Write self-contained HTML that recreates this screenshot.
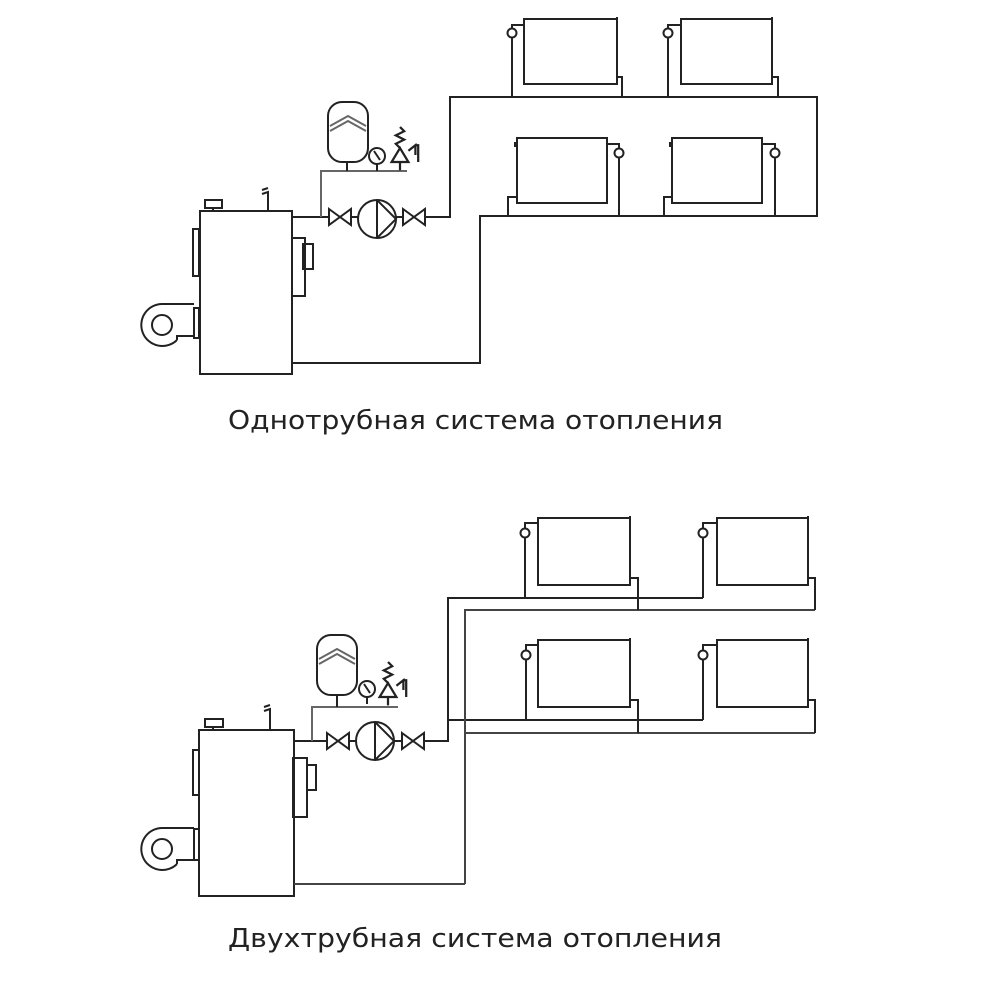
<!DOCTYPE html>
<html><head><meta charset="utf-8"><style>html,body{margin:0;padding:0;background:#fff}svg{display:block}</style></head>
<body>
<svg width="1000" height="1000" viewBox="0 0 1000 1000" xmlns="http://www.w3.org/2000/svg">
<defs>
<g id="valve" fill="none" stroke="#222" stroke-width="2"><path d="M0,-8 L22,8 L22,-8 L0,8 Z"/></g>
<g id="pump" fill="none" stroke="#222" stroke-width="2"><circle r="19"/><line x1="0" y1="-19" x2="0" y2="19"/><path d="M0,-19 L19,0 L0,19"/></g>
<g id="gauge" fill="none" stroke="#222" stroke-width="2"><circle r="8"/><line x1="-3" y1="-5" x2="3" y2="4"/><line x1="0" y1="8" x2="0" y2="15"/></g>
<g id="tank" fill="none" stroke="#222" stroke-width="2"><rect x="0" y="0" width="40" height="60" rx="14"/><path d="M2,24 L20,14 L38,24 M2,29 L20,19 L38,29" stroke="#666"/></g>
<g id="safety" fill="none" stroke="#222" stroke-width="1.6" transform="scale(1.4)"><path d="M-6,0 L6,0 L0,-10 Z"/><path d="M0,-10 L-3,-13 L3,-16 L-3,-19 L3,-22 L0,-25"/><path d="M6,-8 L11,-12 L11,-5"/><path d="M11,-12 L13,-12 L13,0"/><line x1="0" y1="0" x2="0" y2="6"/></g>
<g id="fan" fill="none" stroke="#222" stroke-width="2"><circle r="10"/><path d="M0,-21 A21,21 0 1 0 15,15"/><path d="M15,15 L15,11 L32,11"/><path d="M0,-21 L32,-21"/></g>
</defs>

<g fill="none" stroke="#222" stroke-width="2">
<!-- TOP DIAGRAM -->
<rect x="200" y="211" width="92" height="163"/>
<rect x="205" y="200" width="17" height="8"/><line x1="213" y1="208" x2="213" y2="211"/>
<path d="M268,211 L268,192 L262,194 M268,188 L262,190"/>
<rect x="193" y="229" width="6" height="47"/>
<rect x="194" y="308" width="5" height="30"/>
<use href="#fan" x="162" y="325"/>
<rect x="292" y="238" width="13" height="58"/>
<rect x="303" y="244" width="10" height="25"/>
<path d="M292,217 L329,217 M351,217 L358,217 M396,217 L403,217 M425,217 L450,217 L450,97 L817,97 L817,216 L480,216 L480,363 L292,363"/>
<path d="M321,217 L321,171 L407,171" stroke="#666"/>
<use href="#valve" x="329" y="217"/>
<use href="#pump" x="377" y="219"/>
<use href="#valve" x="403" y="217"/>
<use href="#tank" x="328" y="102"/><line x1="347" y1="162" x2="347" y2="171"/>
<use href="#gauge" x="377" y="156"/>
<use href="#safety" x="400" y="162"/>
<!-- top radiators -->
<rect x="524" y="19" width="93" height="65"/>
<circle cx="512" cy="33" r="4.5"/><path d="M512,28 L512,25 L524,25 M512,38 L512,97 M617,77 L622,77 L622,97 M617,17 L617,23"/>
<rect x="681" y="19" width="91" height="65"/>
<circle cx="668" cy="33" r="4.5"/><path d="M668,28 L668,25 L681,25 M668,38 L668,97 M772,77 L778,77 L778,97 M772,17 L772,23"/>
<rect x="517" y="138" width="90" height="65"/>
<circle cx="619" cy="153" r="4.5"/><path d="M619,148 L619,144 L607,144 M619,158 L619,216 M517,197 L508,197 L508,216 M515,142 L515,147"/>
<rect x="672" y="138" width="90" height="65"/>
<circle cx="775" cy="153" r="4.5"/><path d="M775,148 L775,144 L762,144 M775,158 L775,216 M672,197 L664,197 L664,216 M670,142 L670,147"/>

<!-- BOTTOM DIAGRAM -->
<rect x="199" y="730" width="95" height="166"/>
<rect x="205" y="719" width="18" height="8"/><line x1="213" y1="727" x2="213" y2="730"/>
<path d="M270,730 L270,709 L264,711 M270,705 L264,707"/>
<rect x="193" y="750" width="6" height="45"/>
<rect x="194" y="829" width="5" height="31"/>
<use href="#fan" x="162" y="849"/>
<rect x="293" y="758" width="14" height="59"/>
<rect x="307" y="765" width="9" height="25"/>
<path d="M294,741 L327,741 M349,741 L356,741 M394,741 L402,741 M424,741 L448,741 L448,598 L703,598 M448,720 L703,720"/>
<path d="M465,884 L294,884 M465,884 L465,610 L815,610 M465,733 L815,733" stroke="#444"/>
<path d="M312,741 L312,707 L398,707" stroke="#666"/>
<use href="#valve" x="327" y="741"/>
<use href="#pump" x="375" y="741"/>
<use href="#valve" x="402" y="741"/>
<use href="#tank" x="317" y="635"/><line x1="337" y1="695" x2="337" y2="707"/>
<use href="#gauge" x="367" y="689"/>
<use href="#safety" x="388" y="697"/>
<!-- radiators -->
<rect x="538" y="518" width="92" height="67"/>
<circle cx="525" cy="533" r="4.5"/><path d="M525,528 L525,523 L538,523 M525,538 L525,598 M630,578 L638,578 L638,610 M630,516 L630,522"/>
<rect x="717" y="518" width="91" height="67"/>
<circle cx="703" cy="533" r="4.5"/><path d="M703,528 L703,523 L717,523 M703,538 L703,598 M808,578 L815,578 L815,610 M808,516 L808,522"/>
<rect x="538" y="640" width="92" height="67"/>
<circle cx="526" cy="655" r="4.5"/><path d="M526,650 L526,645 L538,645 M526,660 L526,720 M630,700 L638,700 L638,733 M630,638 L630,644"/>
<rect x="717" y="640" width="91" height="67"/>
<circle cx="703" cy="655" r="4.5"/><path d="M703,650 L703,645 L717,645 M703,660 L703,720 M808,700 L815,700 L815,733 M808,638 L808,644"/>
</g>

<g font-family="'DejaVu Sans', 'Liberation Sans', sans-serif" font-size="26" fill="#222">
<text x="228" y="429" textLength="495" lengthAdjust="spacingAndGlyphs">Однотрубная система отопления</text>
<text x="228" y="947" textLength="494" lengthAdjust="spacingAndGlyphs">Двухтрубная система отопления</text>
</g>
</svg>
</body></html>
